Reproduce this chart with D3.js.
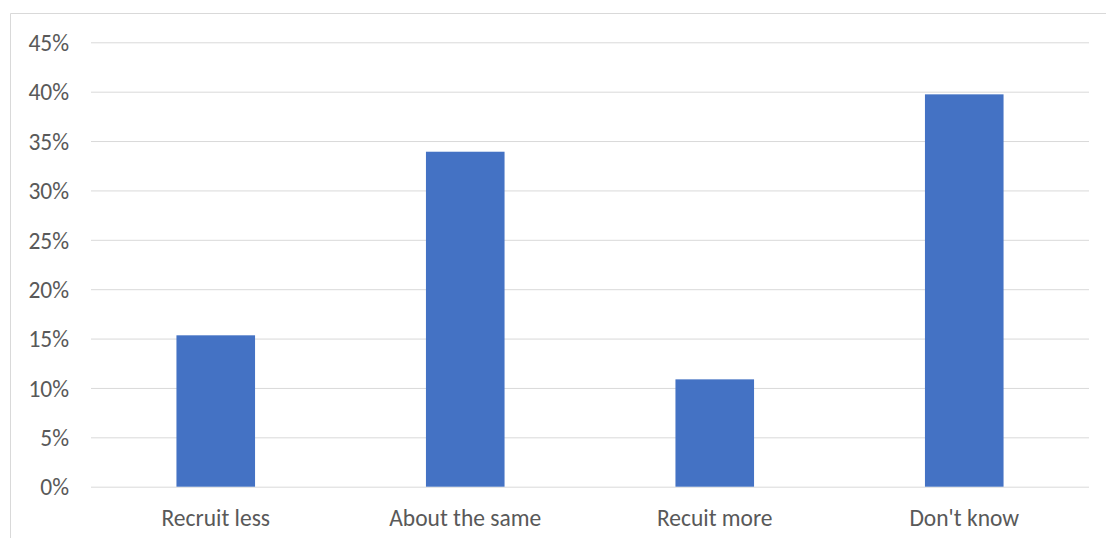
<!DOCTYPE html>
<html>
<head>
<meta charset="utf-8">
<script src="https://cdn.jsdelivr.net/npm/d3@7"></script>
<style>
  body { margin: 0; background: #fff; }
  svg { display: block; }
  .tick text { font-family: Calibri, Carlito, "Open Sans", sans-serif; fill: #595959; }
</style>
</head>
<body>
<div id="chart"></div>
<script>
// Data
var categories = ['Recruit less', 'About the same', 'Recuit more', "Don't know"]
var shares = [0.1533, 0.3392, 0.1087, 0.3973]
var yTicks = [0, 0.05, 0.1, 0.15, 0.2, 0.25, 0.3, 0.35, 0.4, 0.45]

var width = 1106
var height = 538
var plot = { left: 91, right: 1089, top: 42.3, bottom: 486.7 }
var fontSize = '23.5px'

var svg = d3.select('#chart')
  .append('svg')
  .attr('width', width)
  .attr('height', height)

// chart frame (cropped at right and bottom)
svg.append('path')
  .attr('d', 'M10.5,' + height + 'V13.5H' + width)
  .attr('fill', 'none')
  .attr('stroke', '#d9d9d9')
  .attr('stroke-width', 1)

var xScale = d3.scaleBand()
  .domain(categories)
  .range([plot.left, plot.right])

var yScale = d3.scaleLinear()
  .domain([0, 0.45])
  .range([plot.bottom, plot.top])

// gridlines + y labels
var yAxis = d3.axisLeft(yScale)
  .tickValues(yTicks)
  .tickFormat(d3.format('.0%'))
  .tickSizeInner(-(plot.right - plot.left))
  .tickSizeOuter(0)
  .tickPadding(22)

var gy = svg.append('g')
  .attr('transform', 'translate(' + plot.left + ',0)')
  .call(yAxis)
gy.select('.domain').remove()
gy.selectAll('.tick line').attr('stroke', '#d9d9d9').attr('stroke-width', 1)
gy.selectAll('.tick text').style('font-size', fontSize).attr('dy', '0.35em')

// bars
var barWidth = xScale.bandwidth() * 0.315
svg.append('g')
  .selectAll('rect')
  .data(shares)
  .enter()
  .append('rect')
  .attr('x', function(d, i) {
    return xScale(categories[i]) + (xScale.bandwidth() - barWidth) / 2
  })
  .attr('y', function(d) { return yScale(d) })
  .attr('width', barWidth)
  .attr('height', function(d) { return yScale(0) - yScale(d) })
  .attr('fill', '#4472c4')

// x labels
var xAxis = d3.axisBottom(xScale).tickSize(0).tickPadding(31)
var gx = svg.append('g')
  .attr('transform', 'translate(0,' + plot.bottom + ')')
  .call(xAxis)
gx.select('.domain').remove()
gx.selectAll('.tick text').style('font-size', fontSize).attr('dy', '0.35em')
</script>
</body>
</html>
